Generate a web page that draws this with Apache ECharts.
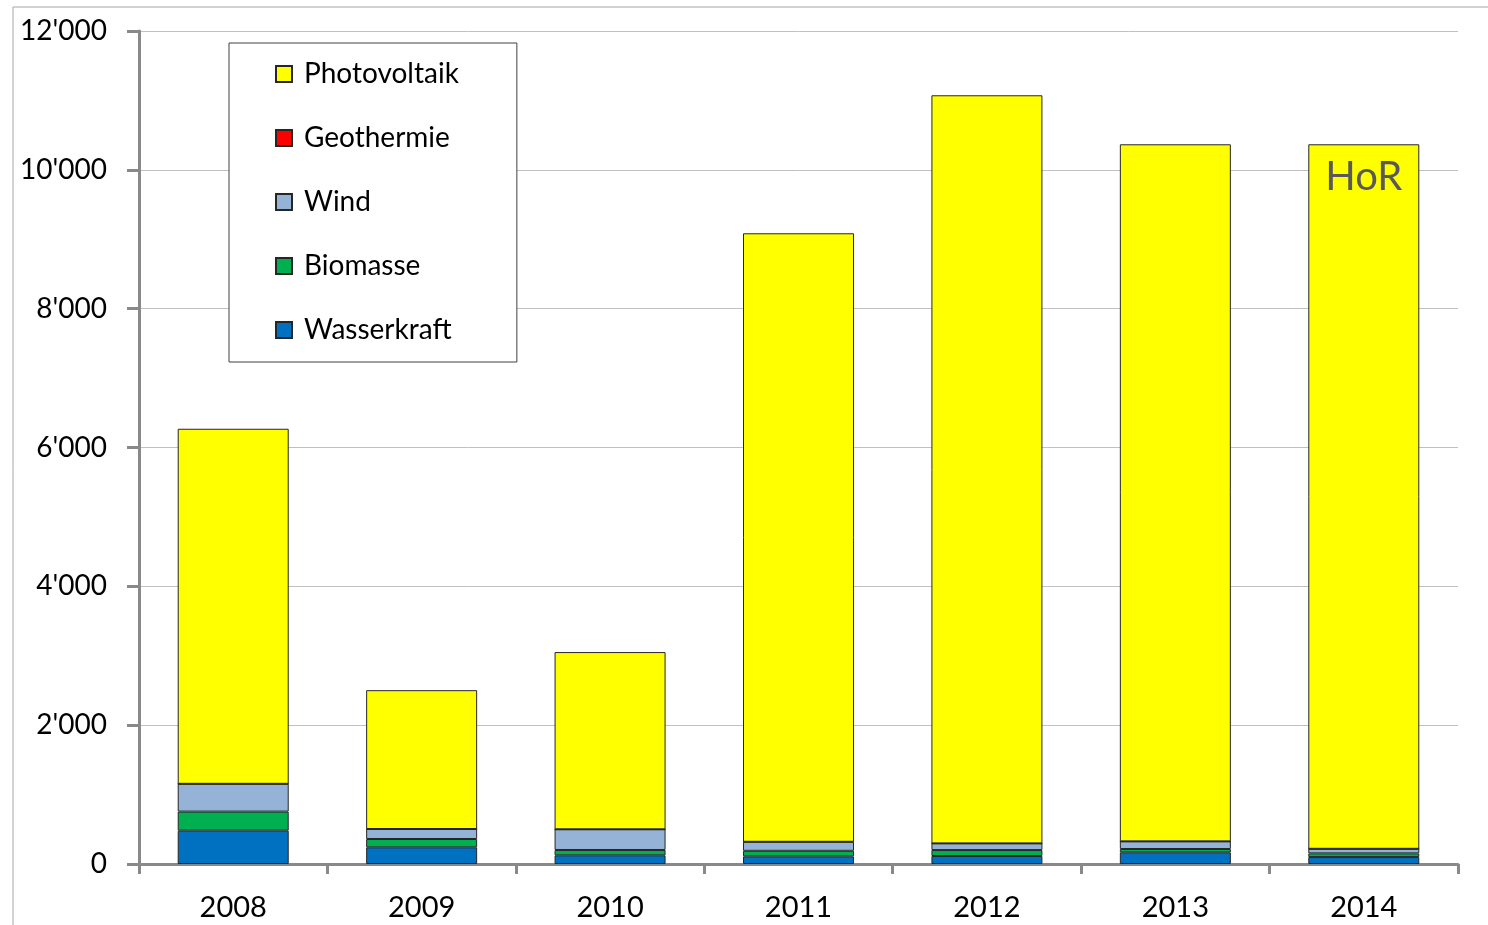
<!DOCTYPE html>
<html>
<head>
<meta charset="utf-8">
<script src="https://cdn.jsdelivr.net/npm/echarts@6/dist/echarts.min.js"></script>
<style>
  html, body { margin: 0; padding: 0; background: #fff; }
  #chart { width: 1488px; height: 925px; }
</style>
</head>
<body>
<div id="chart"></div>
<script>
const years = ['2008', '2009', '2010', '2011', '2012', '2013', '2014']
const wasserkraft = [480, 240, 125, 110, 115, 168, 100]
const biomasse = [275, 120, 77, 80, 86, 48, 53]
const wind = [400, 144, 298, 130, 96, 110, 66]
const geothermie = [0, 0, 0, 0, 0, 0, 0]
const photovoltaik = [5115, 2000, 2553, 8766, 10777, 10042, 10149]
const yTicks = { min: 0, max: 12000, interval: 2000 }

const font = 'Lato, "Noto Sans", sans-serif'
const seriesDefs = [
  ['Wasserkraft', wasserkraft, '#0070C0'],
  ['Biomasse', biomasse, '#00B050'],
  ['Wind', wind, '#95B3D7'],
  ['Geothermie', geothermie, '#FF0000'],
  ['Photovoltaik', photovoltaik, '#FFFF00'],
]

const chart = echarts.init(document.getElementById('chart'))

const option = {
  backgroundColor: '#fff',
  animation: false,
  textStyle: { fontFamily: font },
  graphic: [
    {
      type: 'rect',
      shape: { x: 13, y: 7, width: 1600, height: 1000 },
      style: { fill: 'none', stroke: '#a6a6a6', lineWidth: 1 },
      z: 0,
    },
  ],
  legend: {
    orient: 'vertical',
    left: 229,
    top: 43,
    padding: [17, 58, 18, 46],
    itemGap: 36,
    itemWidth: 16,
    itemHeight: 16,
    icon: 'rect',
    backgroundColor: '#fff',
    borderColor: '#404040',
    borderWidth: 1,
    textStyle: { color: '#000', fontSize: 28, lineHeight: 28, fontFamily: font, padding: [0, 0, 0, 7] },
    data: ['Photovoltaik', 'Geothermie', 'Wind', 'Biomasse', 'Wasserkraft'],
  },
  grid: {
    left: 139,
    right: 30,
    top: 31,
    bottom: 61,
  },
  xAxis: {
    type: 'category',
    data: years,
    axisLine: { lineStyle: { color: '#898989', width: 3 } },
    axisTick: { show: true, length: 10, lineStyle: { color: '#898989', width: 3 } },
    axisLabel: { color: '#000', fontSize: 29, margin: 29, fontFamily: font },
  },
  yAxis: {
    type: 'value',
    min: yTicks.min,
    max: yTicks.max,
    interval: yTicks.interval,
    axisLine: { show: true, lineStyle: { color: '#898989', width: 3 } },
    axisTick: { show: true, length: 12, lineStyle: { color: '#898989', width: 3 } },
    splitLine: { lineStyle: { color: '#c0c0c0', width: 1 } },
    axisLabel: {
      color: '#000',
      fontSize: 28,
      margin: 32,
      fontFamily: font,
      formatter: v => String(v).replace(/\B(?=(\d{3})+(?!\d))/g, "'"),
    },
  },
  series: seriesDefs.map(([name, data, color]) => ({
    name,
    type: 'bar',
    stack: 'total',
    barWidth: 111,
    itemStyle: { color, borderColor: '#262626', borderWidth: 1 },
    data,
    markPoint: name === 'Photovoltaik' ? {
      symbol: 'rect',
      symbolSize: 1,
      itemStyle: { color: 'rgba(0,0,0,0)', borderWidth: 0 },
      label: { show: true, position: 'inside', formatter: 'HoR', color: '#595959', fontSize: 40, fontFamily: font },
      data: [{ coord: ['2014', 9900] }],
    } : undefined,
  })),
}

chart.setOption(option)
</script>
</body>
</html>
